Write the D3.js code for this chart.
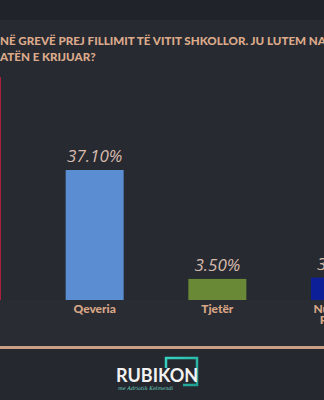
<!DOCTYPE html>
<html>
<head>
<meta charset="utf-8">
<script src="https://cdn.jsdelivr.net/npm/d3@7"></script>
<style>
  html, body { margin: 0; padding: 0; background: #272a31; }
  svg { display: block; }
</style>
</head>
<body>
<svg id="chart" width="324" height="400"></svg>
<script>
const categories = ["Sindikatat", "Qeveria", "Tjetër", "Nuk e di / Refuzoj"];
const categoryLines = [["Sindikatat"], ["Qeveria"], ["Tjetër"], ["Nuk e di /", "Refuzoj"]];
const values = [65.8, 37.1, 3.5, 3.9];
const valueLabels = ["65.80%", "37.10%", "3.50%", "3.90%"];
const barColors = ["#a8203e", "#5a8dd1", "#6a8936", "#0c1f96"];
const titleLines = ["NË GREVË PREJ FILLIMIT TË VITIT SHKOLLOR. JU LUTEM NA", "ATËN E KRIJUAR?"];
const brand = "RUBIKON";
const brandSub = "me Adriatik Kelmendi";

const svg = d3.select("#chart");
const W = 324, H = 400;

// background bands
svg.append("rect").attr("x", 0).attr("y", 0).attr("width", W).attr("height", H).attr("fill", "#272a31");
svg.append("rect").attr("x", 0).attr("y", 0).attr("width", W).attr("height", 20).attr("fill", "#202329");
svg.append("rect").attr("x", 0).attr("y", 300).attr("width", W).attr("height", 46).attr("fill", "#292c33");
svg.append("rect").attr("x", 0).attr("y", 349).attr("width", W).attr("height", 51).attr("fill", "#25282e");

// title
const title = svg.append("g");
const t1 = title.append("text").attr("x", 0).attr("y", 45)
  .attr("fill", "#dcaa8b").attr("font-family", "Lato").attr("font-weight", 900)
  .attr("font-size", 11).text(titleLines[0]);
const len = t1.node().getComputedTextLength();
const fs = 11 * 326 / len;
t1.attr("font-size", fs);
title.append("text").attr("x", 0).attr("y", 61)
  .attr("fill", "#dcaa8b").attr("font-family", "Lato").attr("font-weight", 900)
  .attr("font-size", fs).text(titleLines[1]);

// scales
const x = d3.scalePoint().domain(categories).range([-28, 340]);
const y = d3.scaleLinear().domain([-3, 37.1]).range([300, 170]);
const barW = 58;

const data = categories.map((c, i) => ({ c, v: values[i], label: valueLabels[i], color: barColors[i], lines: categoryLines[i] }));

svg.append("g").selectAll("rect").data(data).join("rect")
  .attr("x", d => x(d.c) - barW / 2)
  .attr("y", d => y(d.v))
  .attr("width", barW)
  .attr("height", d => y(-3) - y(d.v))
  .attr("fill", d => d.color);

svg.append("g").selectAll("text").data(data).join("text")
  .attr("x", d => x(d.c))
  .attr("y", d => y(d.v) - 8)
  .attr("text-anchor", "middle")
  .attr("font-family", "Open Sans").attr("font-style", "italic")
  .attr("font-size", 17).attr("fill", "#d8bbad")
  .text(d => d.label);

// category axis labels
const cat = svg.append("g").selectAll("text").data(data).join("text")
  .attr("x", d => x(d.c))
  .attr("y", 313)
  .attr("text-anchor", "middle")
  .attr("font-family", "Lato").attr("font-weight", 900)
  .attr("font-size", 12).attr("fill", "#d9a686");
cat.selectAll("tspan").data(d => d.lines.map(l => ({ l, cx: x(d.c) }))).join("tspan")
  .attr("x", d => d.cx)
  .attr("dy", (d, i) => i === 0 ? 0 : 11)
  .text(d => d.l);

// separator line
svg.append("line").attr("x1", 0).attr("x2", W).attr("y1", 347.5).attr("y2", 347.5)
  .attr("stroke", "#c9a086").attr("stroke-width", 3);

// logo
const defs = svg.append("defs");
const grad = defs.append("linearGradient").attr("id", "tg").attr("x1", "0").attr("y1", "0").attr("x2", "1").attr("y2", "1");
grad.append("stop").attr("offset", "0%").attr("stop-color", "#37d3c0");
grad.append("stop").attr("offset", "100%").attr("stop-color", "#1f9f94");
svg.append("path")
  .attr("d", "M166,368 V358 H197 V385 H183")
  .attr("fill", "none").attr("stroke", "url(#tg)").attr("stroke-width", 2.5);
svg.append("text").attr("x", 116).attr("y", 382)
  .attr("font-family", "Lato").attr("font-weight", 700).attr("font-size", 18)
  .attr("fill", "#f2f2f2").text(brand);
svg.append("text").attr("x", 118).attr("y", 390)
  .attr("font-family", "DejaVu Serif").attr("font-style", "italic").attr("font-size", 5)
  .attr("fill", "#6fd6c8").text(brandSub);
</script>
</body>
</html>
